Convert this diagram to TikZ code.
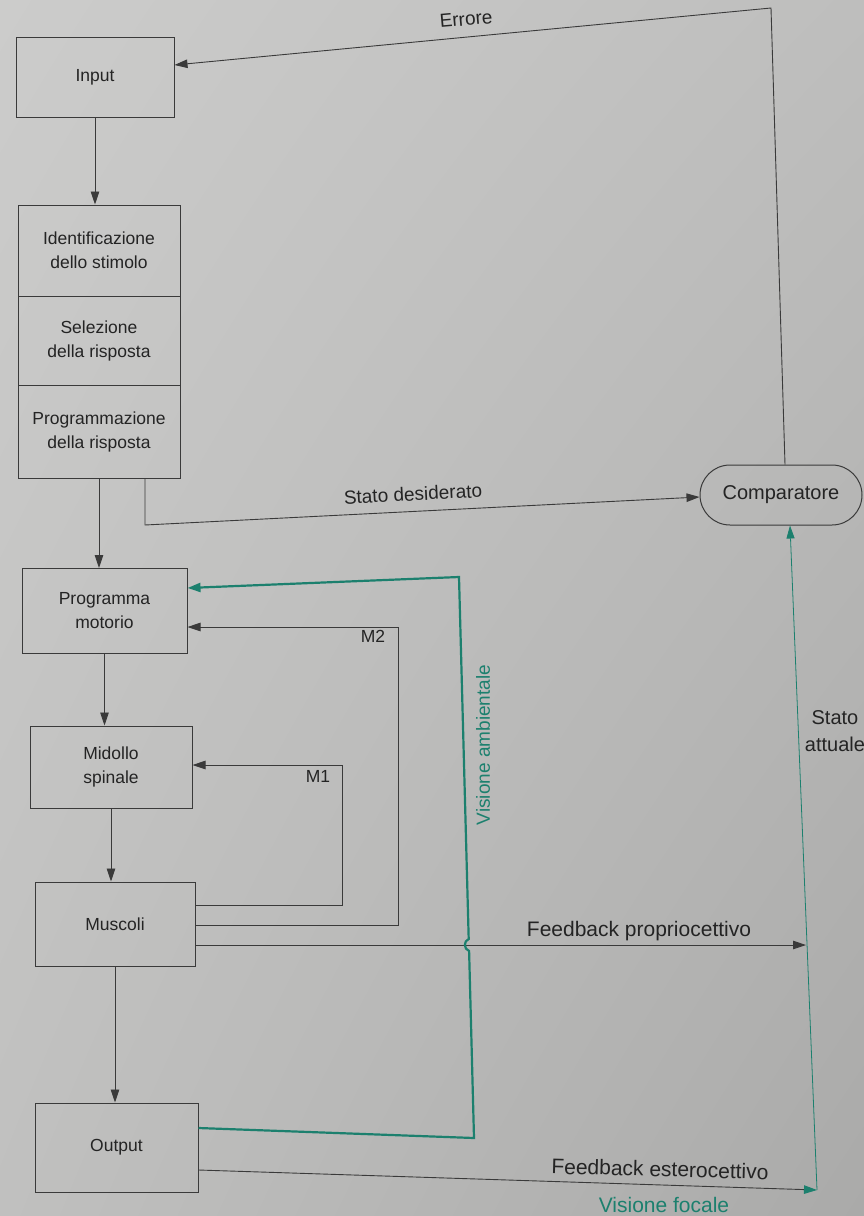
\documentclass[tikz,border=0pt]{standalone}
\usepackage{fontspec}
\setmainfont{Liberation Sans}
\usetikzlibrary{arrows.meta,calc,shadings}
\definecolor{ink}{RGB}{58,58,58}
\definecolor{txt}{RGB}{36,36,36}
\definecolor{vgreen}{RGB}{28,128,110}
\definecolor{pUL}{RGB}{204,204,203}
\definecolor{pUR}{RGB}{190,190,189}
\definecolor{pLL}{RGB}{192,192,191}
\definecolor{pLR}{RGB}{170,170,169}
\begin{document}
\begin{tikzpicture}[x=1pt,y=-1pt,
  box/.style={draw=ink, line width=1pt, rectangle, align=center, text=txt,
    font=\fontsize{17.5}{24}\selectfont, inner sep=2pt},
  lab/.style={text=txt, font=\fontsize{19}{27}\selectfont, inner sep=1pt},
  biglab/.style={text=txt, font=\fontsize{21}{27}\selectfont, inner sep=1pt},
  arr/.style={draw=ink, line width=0.9pt, -{Triangle[length=13pt,width=8.5pt]}},
  garr/.style={draw=vgreen, line width=2.2pt, line join=miter, -{Triangle[length=13pt,width=9pt]}},
  gthin/.style={draw=vgreen, line width=0.8pt, -{Triangle[length=13pt,width=8pt]}}]
\shade[upper left=pUL, upper right=pUR, lower left=pLL, lower right=pLR] (0,0) rectangle (864,1216);
\useasboundingbox (0,0) rectangle (864,1216);

% boxes
\node[box, minimum width=158, minimum height=80] (in) at (95,77) {Input};
\node[box, minimum width=162, minimum height=91] (id) at (99,250.5) {Identificazione\\dello stimolo};
\node[box, minimum width=162, minimum height=89] (sel) at (99,340.5) {Selezione\\della risposta};
\node[box, minimum width=162, minimum height=93] (prg) at (99,431.5) {Programmazione\\della risposta};
\node[box, minimum width=165, minimum height=85] (pm) at (104.5,611) {Programma\\motorio};
\node[box, minimum width=162, minimum height=82] (ms) at (111,767) {Midollo\\spinale};
\node[box, minimum width=160, minimum height=84] (mu) at (115,924) {Muscoli};
\node[box, minimum width=163, minimum height=89] (out) at (116.5,1147.5) {Output};
\node[box, rounded corners=30, minimum width=162, minimum height=60,
  font=\fontsize{20}{24}\selectfont] (cmp) at (781,495) {Comparatore};

% Errore loop
\coordinate (etop) at (771,8);
\draw[arr] (cmp.north -| 785,0) -- (etop) -- (in.east |- 0,65);
\node[lab, rotate=5] (err) at (466,19) {Errore};

% main chain
\draw[arr] (in.south) -- (in.south |- id.north);
\draw[arr] (prg.south) -- (prg.south |- pm.north);
\draw[arr] (prg.south -| 145,0) -- (145,525) -- (cmp.west |- 0,497);
\node[lab, rotate=3] (sd) at (413,494) {Stato desiderato};
\draw[arr] (pm.south) -- (pm.south |- ms.north);
\draw[arr] (ms.south) -- (ms.south |- mu.north);
\draw[arr] (mu.south) -- (mu.south |- out.north);

% M1, M2 loops
\draw[arr] (mu.east |- 0,905) -| (342,765) -- (ms.east |- 0,765);
\node[lab, font=\fontsize{17.5}{20}\selectfont] (m1) at (318,776) {M1};
\draw[arr] (mu.east |- 0,925) -| (398,627) -- (pm.east |- 0,627);
\node[lab, font=\fontsize{17.5}{20}\selectfont] (m2) at (373,636) {M2};

% proprioceptive feedback
\coordinate (fp) at (806,945);
\draw[arr] (mu.east |- 0,945) -- (fp);
\node[biglab] (fpl) at (639,931) {Feedback propriocettivo};

% ambient vision (green)
\draw[garr] (out.east |- 0,1128) -- (474,1138) -- (469.1,951)
  .. controls (463.5,949) and (463.5,941) .. (468.7,939) -- (459,577) -- (pm.east |- 0,588);
\node[lab, text=vgreen, rotate=90] (va) at (483,745) {Visione ambientale};

% exteroceptive feedback and actual state
\coordinate (sa) at (817,1190);
\draw[draw=ink, line width=0.9pt, -{Triangle[length=13pt,width=8.5pt,color=vgreen]}] (out.east |- 0,1170) -- (sa);
\node[biglab, rotate=-1.5] (fel) at (660,1169) {Feedback esterocettivo};
\node[biglab, text=vgreen] (vf) at (664,1205) {Visione focale};
\draw[gthin] (sa) -- (cmp.south -| 790,0);
\node[lab, align=center, font=\fontsize{20}{27}\selectfont] (st) at (835,731) {Stato\\attuale};
\end{tikzpicture}
\end{document}
